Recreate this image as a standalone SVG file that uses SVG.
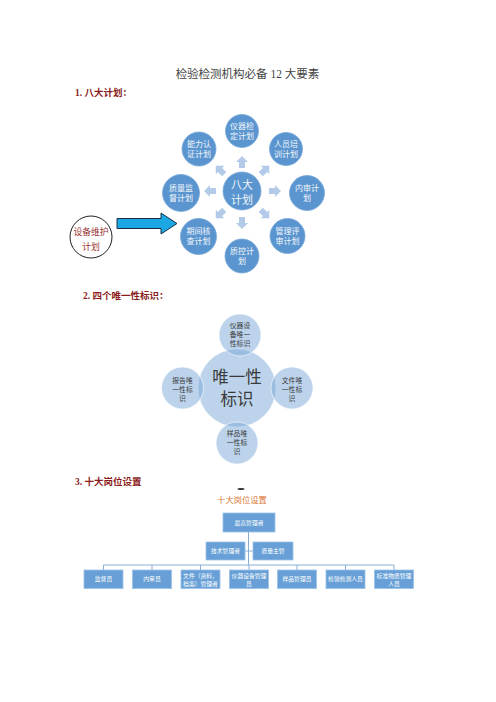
<svg xmlns="http://www.w3.org/2000/svg" width="496" height="702" viewBox="0 0 496 702">
<defs>
<style>
.title{font-family:"Liberation Serif","Noto Sans CJK SC",serif;font-size:11.5px;fill:#444;text-anchor:middle}
.h{font-family:"Liberation Serif","Noto Sans CJK SC",serif;font-size:9.5px;font-weight:bold;fill:#8b1c1c}
.c1{fill:#5b95cf;stroke:#7aaad9;stroke-width:0.8}
.t1{font-family:"Noto Sans CJK SC",sans-serif;font-size:8px;fill:#f2f6fb;text-anchor:middle}
.t1b{font-family:"Noto Sans CJK SC",sans-serif;font-size:11px;fill:#f2f6fb;text-anchor:middle}
.sa{fill:#b3cbe9}
.c2{fill:#7aa8d8;fill-opacity:0.5;stroke:#ffffff;stroke-width:0.6}
.t2{font-family:"Noto Sans CJK SC",sans-serif;font-size:6.8px;fill:#3a3a3a;text-anchor:middle}
.t2b{font-family:"Noto Sans CJK SC",sans-serif;font-size:16.5px;fill:#3a3a3a;text-anchor:middle}
.box{fill:#679fd6;stroke:#9cc2e8;stroke-width:0.8}
.t3{font-family:"Noto Sans CJK SC",sans-serif;font-size:5.8px;fill:#ffffff;text-anchor:middle}
.ln{stroke:#8aaed4;stroke-width:1;fill:none}
</style>
<path id="sarr" d="M0,-6 L6,0 L3,0 L3,6 L-3,6 L-3,0 L-6,0 Z"/>
</defs>

<text class="title" x="247.5" y="78">检验检测机构必备 12 大要素</text>

<!-- Section 1 -->
<text class="h" x="75" y="96">1. 八大计划：</text>

<g id="connectors1">
<use href="#sarr" class="sa" transform="translate(242,162)"/>
<use href="#sarr" class="sa" transform="translate(265,170) rotate(45)"/>
<use href="#sarr" class="sa" transform="translate(275,191) rotate(90)"/>
<use href="#sarr" class="sa" transform="translate(265,214) rotate(135)"/>
<use href="#sarr" class="sa" transform="translate(242,223) rotate(180)"/>
<use href="#sarr" class="sa" transform="translate(220,214) rotate(225)"/>
<use href="#sarr" class="sa" transform="translate(210,191) rotate(270)"/>
<use href="#sarr" class="sa" transform="translate(220,170) rotate(315)"/>
<polygon points="117,218.5 161,218.5 161,213 177,223.5 161,234 161,228.5 117,228.5" fill="#1ba8e2" stroke="#1c2f48" stroke-width="1"/>
</g>

<g id="n_center1"><circle class="c1" cx="242" cy="191" r="19"/><text class="t1b" x="242" y="189">八大</text><text class="t1b" x="242" y="203.5">计划</text></g>
<g id="n_yiqi"><circle class="c1" cx="242" cy="131" r="16.5"/><text class="t1" x="242" y="128.5">仪器检</text><text class="t1" x="242" y="138.5">定计划</text></g>
<g id="n_renyuan"><circle class="c1" cx="286" cy="149" r="16.5"/><text class="t1" x="286" y="147">人员培</text><text class="t1" x="286" y="157">训计划</text></g>
<g id="n_neishen"><circle class="c1" cx="307" cy="193" r="17.5"/><text class="t1" x="307" y="191">内审计</text><text class="t1" x="307" y="201">划</text></g>
<g id="n_guanli"><circle class="c1" cx="287.5" cy="236" r="17.5"/><text class="t1" x="287.5" y="234">管理评</text><text class="t1" x="287.5" y="244">审计划</text></g>
<g id="n_zhikong"><circle class="c1" cx="242" cy="256" r="17"/><text class="t1" x="242" y="254">质控计</text><text class="t1" x="242" y="264">划</text></g>
<g id="n_qijian"><circle class="c1" cx="198.5" cy="236.5" r="18"/><text class="t1" x="198.5" y="234">期间核</text><text class="t1" x="198.5" y="244">查计划</text></g>
<g id="n_zhiliang"><circle class="c1" cx="181" cy="193" r="18.5"/><text class="t1" x="181" y="191">质量监</text><text class="t1" x="181" y="201">督计划</text></g>
<g id="n_nengli"><circle class="c1" cx="199" cy="149" r="17"/><text class="t1" x="199" y="147">能力认</text><text class="t1" x="199" y="157">证计划</text></g>

<g id="n_shebei"><circle cx="91" cy="237" r="21" fill="#ffffff" stroke="#222" stroke-width="1"/>
<text x="91" y="234.5" font-family="Liberation Serif,'Noto Sans CJK SC',serif" font-size="8.8" fill="#9b3535" text-anchor="middle">设备维护</text>
<text x="91" y="250" font-family="Liberation Serif,'Noto Sans CJK SC',serif" font-size="8.8" fill="#9b3535" text-anchor="middle">计划</text></g>

<!-- Section 2 -->
<text class="h" x="83" y="299">2. 四个唯一性标识：</text>

<g id="n_center2"><circle class="c2" cx="237" cy="388" r="39"/></g>
<g id="n_top2"><circle class="c2" cx="240" cy="335" r="21"/><text class="t2" x="240" y="327.5">仪器设</text><text class="t2" x="240" y="336.5">备唯一</text><text class="t2" x="240" y="345.5">性标识</text></g>
<g id="n_left2"><circle class="c2" cx="182.5" cy="388" r="21"/><text class="t2" x="182.5" y="382.5">报告唯</text><text class="t2" x="182.5" y="391.5">一性标</text><text class="t2" x="182.5" y="400.5">识</text></g>
<g id="n_right2"><circle class="c2" cx="292" cy="388" r="21"/><text class="t2" x="292" y="382.5">文件唯</text><text class="t2" x="292" y="391.5">一性标</text><text class="t2" x="292" y="400.5">识</text></g>
<g id="n_bottom2"><circle class="c2" cx="237" cy="443" r="21"/><text class="t2" x="237" y="435.5">样品唯</text><text class="t2" x="237" y="444.5">一性标</text><text class="t2" x="237" y="454">识</text></g>
<g id="n_center2_text"><text class="t2b" x="237" y="383">唯一性</text><text class="t2b" x="237" y="405">标识</text></g>

<!-- Section 3 -->
<text class="h" x="75" y="485">3. 十大岗位设置</text>
<ellipse cx="241" cy="489" rx="3.5" ry="1" fill="#333"/>
<text x="242" y="503" font-family="Noto Sans CJK SC,sans-serif" font-size="8.3" fill="#dc7a35" text-anchor="middle">十大岗位设置</text>

<g id="connectors3">
<line class="ln" x1="248.5" y1="532" x2="248.5" y2="565"/>
<line class="ln" x1="245" y1="551" x2="253" y2="551"/>
<line class="ln" x1="103.5" y1="565" x2="394" y2="565"/>
<line class="ln" x1="103.5" y1="565" x2="103.5" y2="570"/>
<line class="ln" x1="152" y1="565" x2="152" y2="570"/>
<line class="ln" x1="200.5" y1="565" x2="200.5" y2="570"/>
<line class="ln" x1="249" y1="565" x2="249" y2="570"/>
<line class="ln" x1="297" y1="565" x2="297" y2="570"/>
<line class="ln" x1="345.5" y1="565" x2="345.5" y2="570"/>
<line class="ln" x1="394" y1="565" x2="394" y2="570"/>
</g>

<g id="b_top"><rect class="box" x="223" y="513" width="52" height="19"/><text class="t3" x="249" y="524.5">最高管理者</text></g>
<g id="b_jishu"><rect class="box" x="206" y="542" width="39" height="18"/><text class="t3" x="225.5" y="553">技术管理者</text></g>
<g id="b_zhiliang"><rect class="box" x="253" y="542" width="40" height="18"/><text class="t3" x="273" y="553">质量主管</text></g>
<g id="b_1"><rect class="box" x="84" y="570" width="39" height="18.5"/><text class="t3" x="103.5" y="581">监督员</text></g>
<g id="b_2"><rect class="box" x="132.5" y="570" width="39" height="18.5"/><text class="t3" x="152" y="581">内审员</text></g>
<g id="b_3"><rect class="box" x="181" y="570" width="39" height="18.5"/><text class="t3" x="200.5" y="577.5">文件（资料，</text><text class="t3" x="200.5" y="585.5">档案）管理者</text></g>
<g id="b_4"><rect class="box" x="229.5" y="570" width="39" height="18.5"/><text class="t3" x="249" y="577.5">仪器设备管理</text><text class="t3" x="249" y="585.5">员</text></g>
<g id="b_5"><rect class="box" x="277.5" y="570" width="39" height="18.5"/><text class="t3" x="297" y="581">样品管理员</text></g>
<g id="b_6"><rect class="box" x="326" y="570" width="39" height="18.5"/><text class="t3" x="345.5" y="581">检验检测人员</text></g>
<g id="b_7"><rect class="box" x="374.5" y="570" width="39" height="18.5"/><text class="t3" x="394" y="577.5">标准物质管理</text><text class="t3" x="394" y="585.5">人员</text></g>
</svg>
